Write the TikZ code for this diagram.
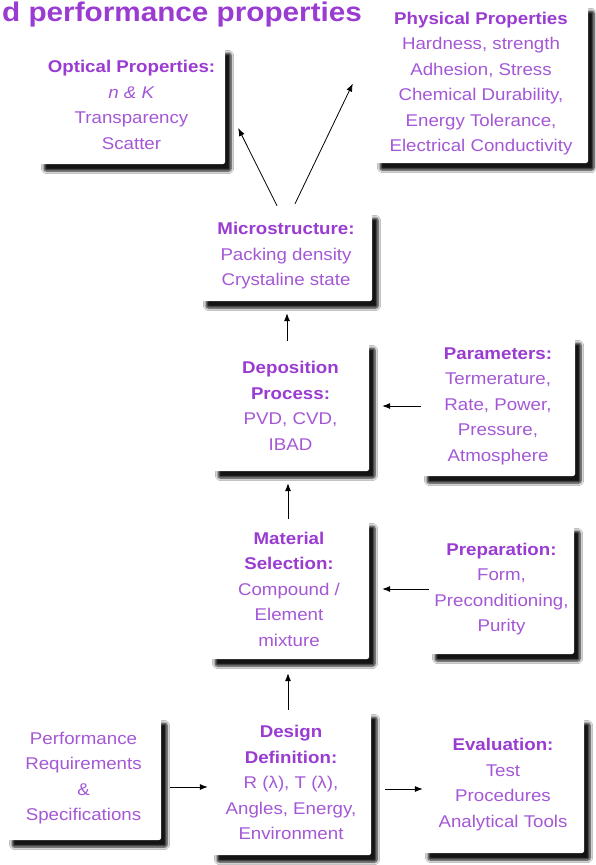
\documentclass[tikz,border=0pt]{standalone}
\usepackage{fontspec}
\setmainfont{Liberation Sans}[FakeStretch=1.1]
\usetikzlibrary{shadows.blur,arrows.meta}
\definecolor{headc}{HTML}{9A3BD1}
\definecolor{bodyc}{HTML}{A458D6}
\newcommand{\hd}[1]{{\bfseries\color{headc}#1}}
\begin{document}
\begin{tikzpicture}[x=1pt,y=-1pt,
  box/.style={fill=white, rounded corners=2pt, align=center, inner sep=0pt,
    font=\fontsize{17}{25.5}\selectfont, text=bodyc,
    blur shadow={shadow xshift=6pt, shadow yshift=-7pt, shadow blur radius=2.5pt,
      shadow opacity=92, shadow blur steps=6}},
  arr/.style={-{Latex[length=8pt,width=6pt]}, line width=0.8pt, black}]
\useasboundingbox (0,0) rectangle (595,865);
\fill[white] (0,0) rectangle (595,865);

\node[anchor=base west, inner sep=0pt, text=headc,
  font=\fontsize{27}{30}\selectfont\bfseries] (title) at (2,21) {d performance properties};

\node[box, minimum width=187pt, minimum height=118pt] (opt) at (131.5,105)
  {\hd{Optical Properties:}\\ \textit{n \& K}\\ Transparency\\ Scatter};
\node[box, minimum width=214pt, minimum height=159pt] (phys) at (481,83.5)
  {\hd{Physical Properties}\\ Hardness, strength\\ Adhesion, Stress\\ Chemical Durability,\\ Energy Tolerance,\\ Electrical Conductivity};
\node[box, minimum width=172pt, minimum height=90pt] (micro) at (286,256)
  {\hd{Microstructure:}\\ Packing density\\ Crystaline state};
\node[box, minimum width=157pt, minimum height=130pt] (dep) at (290.5,406)
  {\hd{Deposition}\\ \hd{Process:}\\ PVD, CVD,\\ IBAD};
\node[box, minimum width=154pt, minimum height=140pt] (par) at (498,406)
  {\hd{Parameters:}\\ Termerature,\\ Rate, Power,\\ Pressure,\\ Atmosphere};
\node[box, minimum width=160pt, minimum height=140pt] (mat) at (289,589)
  {\hd{Material}\\ \hd{Selection:}\\ Compound /\\ Element\\ mixture};
\node[box, minimum width=145pt, minimum height=130pt] (prep) at (501.5,589)
  {\hd{Preparation:}\\ Form,\\ Preconditioning,\\ Purity};
\node[box, minimum width=155pt, minimum height=124pt] (perf) at (83.5,778)
  {Performance\\ Requirements\\ \&\\ Specifications};
\node[box, minimum width=160pt, minimum height=145pt] (des) at (291,782.5)
  {\hd{Design}\\ \hd{Definition:}\\ R (λ), T (λ),\\ Angles, Energy,\\ Environment};
\node[box, minimum width=162pt, minimum height=137pt] (eval) at (503,784.5)
  {\hd{Evaluation:}\\ Test\\ Procedures\\ Analytical Tools};

\draw[arr] ([xshift=-9pt,yshift=5pt]micro.north) -- ([xshift=13pt,yshift=-23pt]opt.east);
\draw[arr] ([xshift=9pt,yshift=7pt]micro.north) -- ([xshift=-21pt]phys.west);
\draw[arr] ([xshift=-3.5pt]dep.north) -- ([xshift=1pt,yshift=-12pt]micro.south);
\draw[arr] ([xshift=-1pt]mat.north) -- ([xshift=-2.5pt,yshift=-12pt]dep.south);
\draw[arr] ([xshift=-3pt]des.north) -- ([xshift=-1pt,yshift=-14pt]mat.south);
\draw[arr] (par.west) -- ([xshift=13pt]dep.east);
\draw[arr] (prep.west) -- ([xshift=13pt]mat.east);
\draw[arr] ([xshift=9pt,yshift=-9pt]perf.east) -- ([xshift=-3pt,yshift=-4.5pt]des.west);
\draw[arr] ([xshift=14pt,yshift=-6.5pt]des.east) -- ([xshift=1pt,yshift=-4.5pt]eval.west);
\end{tikzpicture}
\end{document}
